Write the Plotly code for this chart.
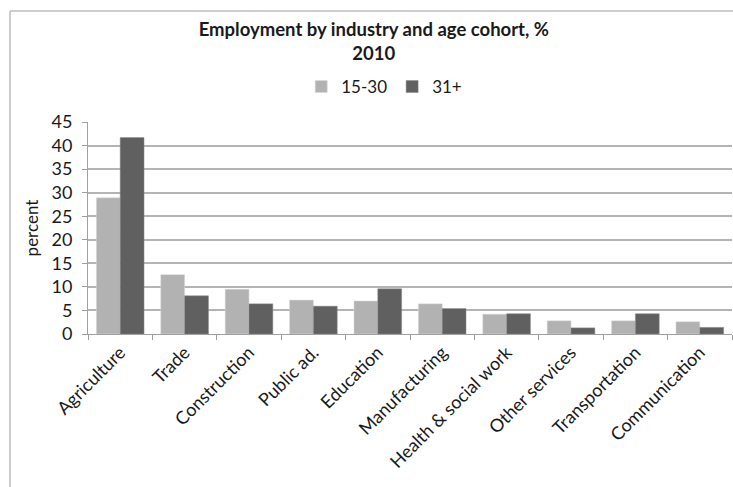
import plotly.graph_objects as go

categories = ["Agriculture", "Trade", "Construction", "Public ad.", "Education",
              "Manufacturing", "Health & social work", "Other services",
              "Transportation", "Communication"]
young = [28.9, 12.6, 9.5, 7.2, 7.0, 6.4, 4.2, 2.8, 2.8, 2.6]
older = [41.7, 8.1, 6.4, 5.9, 9.6, 5.4, 4.3, 1.3, 4.3, 1.4]
series_names = ["15-30", "31+"]
y_ticks = [0, 5, 10, 15, 20, 25, 30, 35, 40, 45]

FONT = "Lato"

fig = go.Figure()
fig.add_trace(go.Bar(x=categories, y=young, name=series_names[0],
                     marker=dict(color="#b2b2b2", line=dict(color="#d8d8d8", width=0.5))))
fig.add_trace(go.Bar(x=categories, y=older, name=series_names[1],
                     marker=dict(color="#606060", line=dict(color="#8a8a8a", width=0.5))))

fig.update_layout(
    width=733, height=487,
    margin=dict(l=88, r=1, t=122, b=153),
    paper_bgcolor="white", plot_bgcolor="white",
    font=dict(family=FONT, color="#1a1a1a"),
    barmode="group", bargap=0.26, bargroupgap=0.0,
    title=dict(text="<b>Employment by industry and age cohort, %<br>2010</b>",
               x=0.51, xanchor="center", y=0.927, yanchor="top",
               font=dict(family=FONT, size=18.5, color="#1a1a1a")),
    legend=dict(orientation="h", x=0.46, xanchor="center", y=1.165, yanchor="middle",
                font=dict(family=FONT, size=17, color="#1a1a1a"),
                itemwidth=30, tracegroupgap=0, traceorder="normal"),
    xaxis=dict(tickangle=-45, tickfont=dict(family=FONT, size=18, color="#1a1a1a"),
               showline=True, linecolor="#a0a0a0", linewidth=1,
               ticks="outside", ticklen=5, tickcolor="#a0a0a0", tickson="boundaries",
               showgrid=False),
    yaxis=dict(range=[0, 45], tickvals=y_ticks,
               tickfont=dict(family=FONT, size=18, color="#1a1a1a"),
               ticklabelstandoff=6,
               title=dict(text="percent", font=dict(family=FONT, size=17, color="#1a1a1a"),
                          standoff=8),
               showline=True, linecolor="#a0a0a0", linewidth=1,
               ticks="outside", ticklen=5, tickcolor="#a0a0a0",
               showgrid=True, gridcolor="#b4b4b4", gridwidth=1.5, zeroline=False),
    shapes=[
        dict(type="line", xref="paper", yref="paper",
             x0=(10 - 88) / 644, x1=(10 - 88) / 644, y0=(487 - 153 - 11) / 212, y1=-153 / 212,
             line=dict(color="#bdbdbd", width=1.5)),
        dict(type="line", xref="paper", yref="paper",
             x0=(10 - 88) / 644, x1=1.01, y0=(487 - 153 - 11) / 212, y1=(487 - 153 - 11) / 212,
             line=dict(color="#bdbdbd", width=1.5)),
    ],
)

fig.write_html("out.html")
